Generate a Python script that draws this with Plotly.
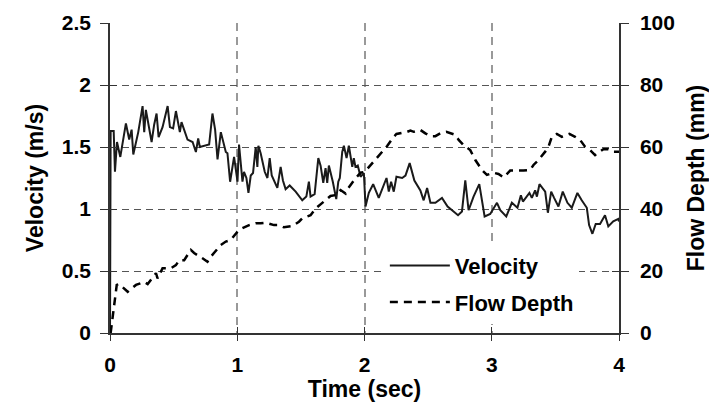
import plotly.graph_objects as go

# Velocity (m/s) vs time (sec)
vel_t = [0.0, 0.005, 0.029, 0.039, 0.055, 0.081, 0.125, 0.151, 0.170, 0.183, 0.222, 0.256, 0.269, 0.282,
         0.327, 0.347, 0.366, 0.382, 0.413, 0.453, 0.471, 0.496, 0.518, 0.549, 0.562, 0.609, 0.649, 0.675,
         0.693, 0.706, 0.779, 0.805, 0.826, 0.845, 0.871, 0.910, 0.923, 0.944, 0.975, 1.002, 1.014, 1.041,
         1.053, 1.072, 1.088, 1.106, 1.124, 1.145, 1.158, 1.166, 1.184, 1.216, 1.237, 1.255, 1.271, 1.296,
         1.315, 1.341, 1.359, 1.380, 1.412, 1.459, 1.511, 1.543, 1.563, 1.576, 1.608, 1.637, 1.655, 1.676,
         1.694, 1.707, 1.720, 1.751, 1.778, 1.794, 1.806, 1.825, 1.838, 1.859, 1.877, 1.904, 1.916, 1.929,
         1.947, 1.969, 1.995, 2.008, 2.034, 2.068, 2.112, 2.173, 2.191, 2.209, 2.230, 2.251, 2.296, 2.322,
         2.355, 2.392, 2.418, 2.439, 2.465, 2.492, 2.518, 2.557, 2.609, 2.653, 2.700, 2.735, 2.766, 2.792,
         2.818, 2.857, 2.902, 2.944, 2.988, 3.041, 3.067, 3.114, 3.158, 3.202, 3.229, 3.245, 3.296, 3.315,
         3.341, 3.355, 3.375, 3.420, 3.441, 3.467, 3.490, 3.524, 3.558, 3.595, 3.629, 3.673, 3.707, 3.747,
         3.765, 3.791, 3.817, 3.851, 3.890, 3.916, 3.955, 3.995, 4.0]
velocity = [0.0, 1.63, 1.63, 1.30, 1.54, 1.42, 1.69, 1.56, 1.64, 1.44, 1.62, 1.83, 1.62, 1.80,
            1.54, 1.68, 1.77, 1.58, 1.66, 1.83, 1.66, 1.65, 1.79, 1.62, 1.70, 1.56, 1.54, 1.46,
            1.57, 1.50, 1.52, 1.77, 1.64, 1.40, 1.62, 1.46, 1.45, 1.22, 1.42, 1.22, 1.52, 1.22,
            1.30, 1.25, 1.13, 1.27, 1.29, 1.50, 1.34, 1.51, 1.45, 1.30, 1.25, 1.41, 1.27, 1.21,
            1.17, 1.34, 1.23, 1.16, 1.19, 1.14, 1.07, 1.10, 1.22, 1.10, 1.12, 1.41, 1.35, 1.21,
            1.33, 1.21, 1.35, 1.22, 1.08, 1.22, 1.25, 1.46, 1.51, 1.41, 1.51, 1.34, 1.41, 1.34,
            1.35, 1.26, 1.29, 1.02, 1.13, 1.20, 1.09, 1.25, 1.14, 1.22, 1.14, 1.26, 1.25, 1.27,
            1.37, 1.23, 1.18, 1.15, 1.07, 1.17, 1.05, 1.05, 1.09, 1.02, 0.98, 0.95, 0.98, 1.23,
            0.99, 1.10, 1.20, 0.94, 0.96, 1.05, 0.99, 0.94, 1.05, 1.01, 1.11, 1.06, 1.13, 1.09,
            1.15, 1.10, 1.20, 1.14, 0.97, 1.14, 1.09, 1.02, 1.14, 1.05, 1.01, 1.13, 1.07, 1.01,
            0.87, 0.80, 0.88, 0.88, 0.95, 0.86, 0.90, 0.92, 0.90]

# Flow depth (mm) vs time (sec)
depth_t = [0.005, 0.053, 0.073, 0.139, 0.204, 0.269, 0.296, 0.361, 0.374, 0.413, 0.478, 0.518, 0.544,
           0.583, 0.635, 0.661, 0.727, 0.766, 0.792, 0.871, 0.910, 0.949, 1.002, 1.041, 1.093, 1.145,
           1.184, 1.224, 1.289, 1.328, 1.367, 1.433, 1.485, 1.511, 1.576, 1.616, 1.681, 1.733, 1.773,
           1.812, 1.851, 1.864, 1.929, 1.969, 2.002, 2.060, 2.125, 2.178, 2.230, 2.251, 2.335, 2.361,
           2.387, 2.439, 2.478, 2.518, 2.557, 2.596, 2.643, 2.714, 2.740, 2.779, 2.831, 2.871, 2.923,
           2.962, 3.014, 3.053, 3.093, 3.145, 3.249, 3.302, 3.328, 3.367, 3.420, 3.446, 3.472, 3.511,
           3.551, 3.610, 3.655, 3.694, 3.733, 3.773, 3.812, 3.877, 3.916, 3.955, 4.0]
depth = [0.0, 15.5, 15.8, 13.3, 15.5, 16.5, 15.8, 19.3, 17.6, 20.9, 20.9, 21.9, 23.5,
         23.5, 26.8, 25.8, 24.1, 23.0, 24.6, 28.4, 29.5, 30.0, 32.7, 33.8, 34.8, 35.4,
         35.4, 35.6, 34.8, 34.8, 34.1, 34.5, 35.9, 37.0, 38.0, 40.2, 42.4, 44.2, 44.5,
         46.1, 45.0, 46.3, 49.9, 51.7, 52.0, 54.7, 57.7, 60.3, 63.3, 64.2, 64.9, 65.3,
         64.9, 65.5, 64.4, 63.5, 63.5, 64.4, 64.9, 63.9, 62.3, 60.6, 59.0, 55.8, 52.6,
         51.0, 51.7, 51.3, 50.2, 52.4, 52.4, 52.6, 54.2, 55.8, 58.5, 60.1, 63.3, 64.2,
         63.3, 64.2, 63.3, 62.3, 60.1, 59.0, 57.4, 59.3, 59.3, 58.5, 58.5]

x_ticks = [0, 1, 2, 3, 4]
v_ticks = [0, 0.5, 1, 1.5, 2, 2.5]
v_tick_text = ["0", "0.5", "1", "1.5", "2", "2.5"]
d_ticks = [0, 20, 40, 60, 80, 100]

FONT = "Liberation Sans, Arial, sans-serif"
tickfont = dict(family=FONT, size=21, color="black", weight="bold")
titlefont = dict(family=FONT, size=23, color="black", weight="bold")
AX = "#333333"

fig = go.Figure()
fig.add_trace(go.Scatter(x=vel_t, y=velocity, mode="lines", name="Velocity", legendgroup="v",
                         line=dict(color="#1a1a1a", width=2), xaxis="x", yaxis="y"))
fig.add_trace(go.Scatter(x=depth_t, y=depth, mode="lines", name="Flow Depth", legendgroup="d",
                         line=dict(color="black", width=2.5, dash="8px,6px"), xaxis="x", yaxis="y2"))
# empty traces to host the inside-tick overlay axes
fig.add_trace(go.Scatter(x=[], y=[], xaxis="x2", yaxis="y3", showlegend=False, hoverinfo="skip"))
fig.add_trace(go.Scatter(x=[], y=[], xaxis="x2", yaxis="y4", showlegend=False, hoverinfo="skip"))

fig.update_layout(
    width=709, height=406,
    margin=dict(l=110, r=90, t=23, b=73, autoexpand=False),
    paper_bgcolor="white", plot_bgcolor="white",
    showlegend=True,
    legend=dict(x=0.54, y=0.285, xanchor="left", yanchor="top", bgcolor="white",
                font=dict(family=FONT, size=22, color="black", weight="bold"),
                tracegroupgap=5, itemwidth=60),
    xaxis=dict(range=[0, 4], tickvals=x_ticks, ticks="outside", ticklen=6, tickcolor=AX,
               showline=True, linecolor=AX, linewidth=1.5, tickfont=tickfont,
               ticklabelstandoff=6,
               showgrid=True, gridcolor="#999999", gridwidth=1.5, griddash="8px,6px",
               zeroline=False, anchor="y", automargin=False,
               title=dict(text="Time (sec)", font=titlefont, standoff=2)),
    xaxis2=dict(range=[0, 4], tickvals=x_ticks, ticks="inside", ticklen=6, tickcolor=AX,
                showticklabels=False, showgrid=False, zeroline=False, showline=False,
                overlaying="x", anchor="y", side="bottom"),
    yaxis=dict(range=[0, 2.5], tickvals=v_ticks, ticktext=v_tick_text, ticks="outside", ticklen=8,
               tickcolor=AX, showline=True, linecolor=AX, linewidth=1.5, tickfont=tickfont,
               ticklabelstandoff=5,
               showgrid=True, gridcolor="#555555", gridwidth=1, griddash="7px,5px",
               zeroline=False, anchor="x", automargin=False,
               title=dict(text="Velocity (m/s)", font=titlefont, standoff=12)),
    yaxis2=dict(range=[0, 100], tickvals=d_ticks, ticks="outside", ticklen=8, tickcolor=AX,
                showline=True, linecolor=AX, linewidth=1.5, tickfont=tickfont,
                ticklabelstandoff=7,
                showgrid=False, zeroline=False, overlaying="y", side="right", anchor="x",
                automargin=False,
                title=dict(text="Flow Depth (mm)", font=titlefont, standoff=14)),
    yaxis3=dict(range=[0, 2.5], tickvals=v_ticks, ticks="inside", ticklen=7, tickcolor=AX,
                showticklabels=False, showgrid=False, zeroline=False, showline=False,
                overlaying="y", side="left", anchor="x2"),
    yaxis4=dict(range=[0, 100], tickvals=d_ticks, ticks="inside", ticklen=7, tickcolor=AX,
                showticklabels=False, showgrid=False, zeroline=False, showline=False,
                overlaying="y", side="right", anchor="x2"),
)

fig.write_html("out.html")
